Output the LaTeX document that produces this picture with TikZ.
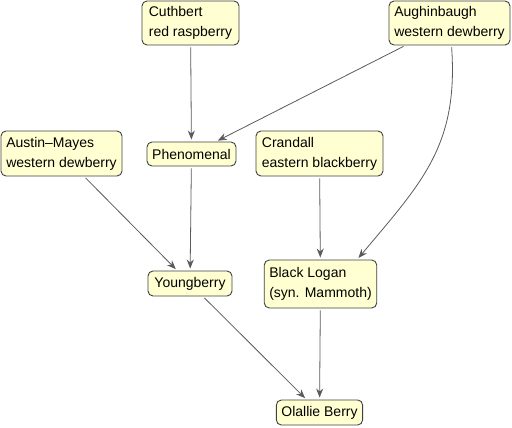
\documentclass[tikz,border=0pt]{standalone}
\usepackage{fontspec}
\setmainfont{Liberation Sans}
\usetikzlibrary{arrows.meta}
\definecolor{boxfill}{HTML}{FFFFD2}
\definecolor{boxline}{HTML}{404040}
\definecolor{edgecol}{HTML}{5A5A5A}
\begin{document}
\begin{tikzpicture}[x=1pt,y=-1pt,
  cultivar/.style={draw=boxline, fill=boxfill, rounded corners=5pt, line width=0.9pt,
    align=left, inner xsep=5pt, inner ysep=4pt, anchor=center,
    font=\fontsize{14}{20}\selectfont},
  link/.style={draw=edgecol, line width=0.8pt, -{Stealth[length=9pt,width=7pt]}, shorten >=2pt, shorten <=2pt}]
\useasboundingbox (0,0) rectangle (512,428);
\node[cultivar, minimum width=97pt, minimum height=44pt] (cut) at (190.5,23) {Cuthbert\\red raspberry};
\node[cultivar, minimum width=121pt, minimum height=44pt] (aug) at (449.5,23) {Aughinbaugh\\western dewberry};
\node[cultivar, minimum width=121pt, minimum height=45pt] (aus) at (61.5,153.5) {Austin--Mayes\\western dewberry};
\node[cultivar, minimum width=89pt, minimum height=24pt] (phe) at (191.5,154) {Phenomenal};
\node[cultivar, minimum width=127pt, minimum height=45pt] (cra) at (319.5,153.5) {Crandall\\eastern blackberry};
\node[cultivar, minimum width=84pt, minimum height=25pt] (you) at (190,283.5) {Youngberry};
\node[cultivar, minimum width=111pt, minimum height=48pt] (blk) at (320.5,284) {Black Logan\\(syn. Mammoth)};
\node[cultivar, minimum width=85pt, minimum height=25pt] (ola) at (319.5,412.5) {Olallie Berry};
\draw[link] (cut) -- (phe);
\draw[link] (aug) -- (phe);
\draw[link] ([xshift=2pt]aug.south) to[out=-86, in=50, looseness=1.1] ([xshift=-20pt]blk.north east);
\draw[link] (aus) -- (you);
\draw[link] (phe) -- (you);
\draw[link] (cra) -- (blk);
\draw[link] (you) -- (ola);
\draw[link] (blk) -- (ola);
\end{tikzpicture}
\end{document}
